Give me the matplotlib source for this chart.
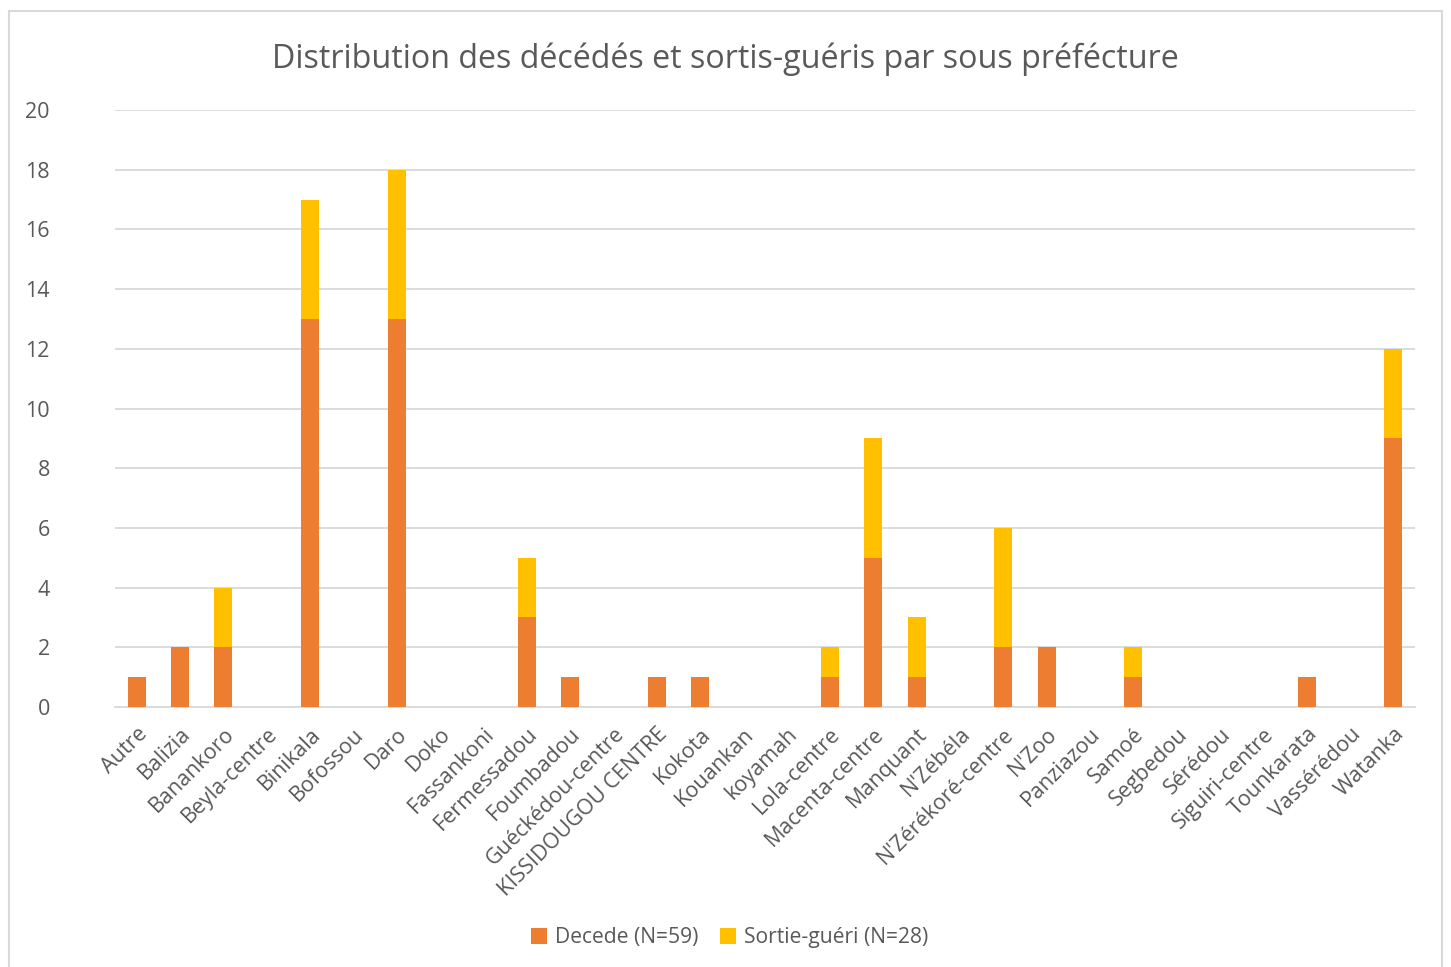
import matplotlib.pyplot as plt
import numpy as np
from matplotlib.patches import Rectangle

plt.rcParams["font.family"] = ["Open Sans", "DejaVu Sans"]

categories = ["Autre", "Balizia", "Banankoro", "Beyla-centre", "Binikala", "Bofossou",
              "Daro", "Doko", "Fassankoni", "Fermessadou", "Foumbadou", "Guéckédou-centre",
              "KISSIDOUGOU CENTRE", "Kokota", "Kouankan", "koyamah", "Lola-centre",
              "Macenta-centre", "Manquant", "N'Zébéla", "N'Zérékoré-centre", "N'Zoo",
              "Panziazou", "Samoé", "Segbedou", "Sérédou", "Siguiri-centre", "Tounkarata",
              "Vassérédou", "Watanka"]
decede = [1, 2, 2, 0, 13, 0, 13, 0, 0, 3, 1, 0, 1, 1, 0, 0, 1, 5, 1, 0, 2, 2, 0, 1, 0, 0, 0, 1, 0, 9]
gueri = [0, 0, 2, 0, 4, 0, 5, 0, 0, 2, 0, 0, 0, 0, 0, 0, 1, 4, 2, 0, 4, 0, 0, 1, 0, 0, 0, 0, 0, 3]

text_color = "#595959"
grid_color = "#D9D9D9"

fig = plt.figure(figsize=(14.51, 9.67), dpi=100)
ax = fig.add_axes([0.0793, 0.2689, 0.8959, 0.6173])

x = np.arange(len(categories))
ax.bar(x, decede, width=0.42, color="#ED7D31", label="Decede (N=59)", zorder=3)
ax.bar(x, gueri, width=0.42, bottom=decede, color="#FFC000", label="Sortie-guéri (N=28)", zorder=3)

ax.set_xlim(-0.5, len(categories) - 0.5)
ax.set_ylim(0, 20)
ax.set_yticks(range(0, 21, 2))
ax.yaxis.grid(True, color=grid_color, linewidth=1.3, zorder=0)
for s in ["top", "right", "left"]:
    ax.spines[s].set_visible(False)
ax.spines["bottom"].set_color(grid_color)
ax.spines["bottom"].set_linewidth(1.3)
ax.tick_params(axis="both", length=0, colors=text_color, labelsize=15.5)
ax.tick_params(axis="y", pad=47)
ax.tick_params(axis="x", pad=12)
ax.set_xticks(x)
ax.set_xticklabels(categories, rotation=45, ha="right", rotation_mode="anchor")

fig.text(0.5, 0.939, "Distribution des décédés et sortis-guéris par sous préfécture",
         ha="center", va="center", fontsize=23.2, color=text_color)

fig.legend(loc="center", bbox_to_anchor=(0.503, 0.03), ncol=2, frameon=False,
           fontsize=15.2, labelcolor=text_color, handlelength=0.75, handleheight=0.75,
           handletextpad=0.4, columnspacing=1.0)

fig.patches.append(Rectangle((0.006, -0.01), 0.988, 0.999, transform=fig.transFigure,
                             fill=False, edgecolor=grid_color, linewidth=1.5))

fig.savefig("out.png", dpi=100)
